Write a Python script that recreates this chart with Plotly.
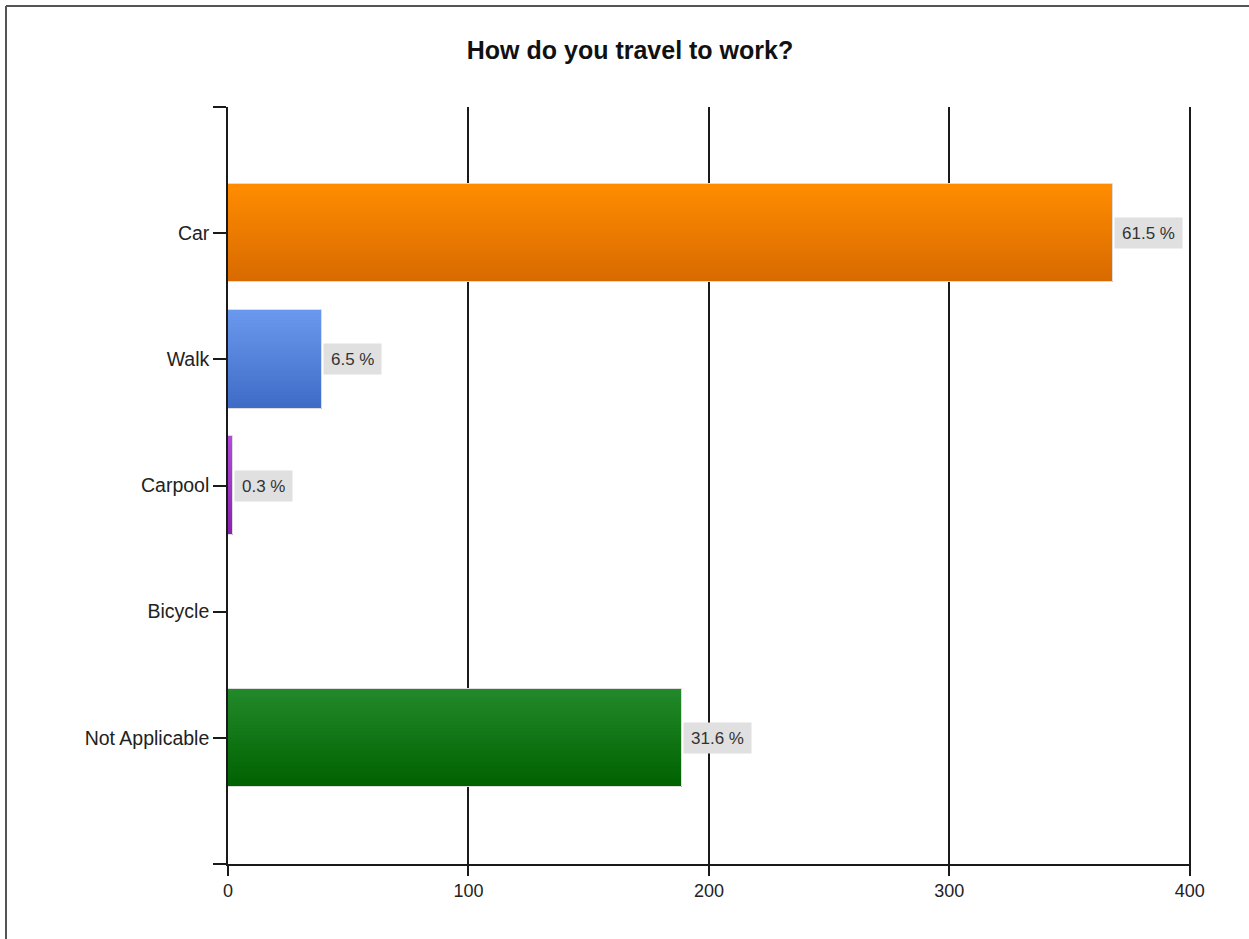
import plotly.graph_objects as go

# Survey responses
categories = ["Car", "Walk", "Carpool", "Bicycle", "Not Applicable"]
counts = [368, 39, 2, 0, 189]
percent_labels = ["61.5 %", "6.5 %", "0.3 %", "", "31.6 %"]
x_ticks = [0, 100, 200, 300, 400]

# Top and bottom colours of each bar's vertical gradient
top_colors = ["#ff8c00", "#6a98ee", "#b04ad8", "#9a9a9a", "#22892a"]
bottom_colors = ["#d86a00", "#3f6cc6", "#8a22b0", "#7a7a7a", "#006200"]

BAR_W = 0.78
STRIPS = 30
FONT = "Liberation Sans, Arial, sans-serif"


def mix(c1, c2, t):
    a = [int(c1[i:i + 2], 16) for i in (1, 3, 5)]
    b = [int(c2[i:i + 2], 16) for i in (1, 3, 5)]
    return "#" + "".join(f"{round(a[k] + (b[k] - a[k]) * t):02x}" for k in range(3))


fig = go.Figure()
positions = list(range(len(categories)))

# Gradient bodies: each bar is built from thin horizontal strips
step = BAR_W / STRIPS
for s in range(STRIPS):
    t = s / (STRIPS - 1)
    fig.add_trace(go.Bar(
        orientation="h",
        x=counts,
        y=positions,
        width=step * (1.6 if s < STRIPS - 1 else 1.0),
        offset=-BAR_W / 2 + s * step,
        marker=dict(color=[mix(top_colors[i], bottom_colors[i], t) for i in range(len(categories))],
                    line=dict(width=0)),
        hoverinfo="skip",
        showlegend=False,
    ))

# Light outline around each bar
fig.add_trace(go.Bar(
    orientation="h",
    x=counts,
    y=positions,
    width=BAR_W,
    marker=dict(color="rgba(0,0,0,0)", line=dict(color="#dcdcdc", width=1)),
    text=categories,
    hovertemplate="%{text}: %{x}<extra></extra>",
    textposition="none",
    showlegend=False,
))

# Percentage labels beside the bars
annotations = []
for i, (v, lab) in enumerate(zip(counts, percent_labels)):
    if not lab:
        continue
    annotations.append(dict(
        x=v, y=i, xref="x", yref="y", text=lab, showarrow=False,
        xanchor="left", yanchor="middle", xshift=1,
        bgcolor="#e0e0e0", borderpad=7, height=16,
        font=dict(family=FONT, size=17, color="#333333"),
    ))

W, H = 1249, 939
L, R, T, B = 228, 58, 107, 75
pw, ph = W - L - R, H - T - B

fig.update_layout(
    width=W, height=H,
    margin=dict(l=L, r=R, t=T, b=B),
    paper_bgcolor="white",
    plot_bgcolor="white",
    barmode="overlay",
    bargap=0,
    title=dict(
        text="<b>How do you travel to work?</b>",
        x=630 / W, xanchor="center", y=1 - 50 / H, yanchor="middle",
        font=dict(family=FONT, size=25, color="#111111"),
    ),
    xaxis=dict(
        range=[0, 400.5],
        tickvals=x_ticks,
        ticktext=[str(v) for v in x_ticks],
        showgrid=True, gridcolor="#1a1a1a", gridwidth=1.6,
        zeroline=False,
        showline=True, linecolor="#1a1a1a", linewidth=1.6,
        ticks="outside", ticklen=10, tickcolor="#1a1a1a", tickwidth=1.6,
        tickfont=dict(family=FONT, size=18, color="#222222"),
        fixedrange=True,
    ),
    yaxis=dict(
        range=[len(categories), -1],
        tickvals=[-1] + positions + [len(categories)],
        ticktext=[""] + categories + [""],
        showgrid=False, zeroline=False,
        showline=True, linecolor="#1a1a1a", linewidth=1.6,
        ticks="outside", ticklen=13, tickcolor="#1a1a1a", tickwidth=1.6,
        tickfont=dict(family=FONT, size=19.5, color="#222222"),
        fixedrange=True,
    ),
    annotations=annotations,
    shapes=[
        # outer frame: left and top edges
        dict(type="line", xref="paper", yref="paper",
             x0=(6 - L) / pw, x1=(6 - L) / pw, y0=1 + (T - 6) / ph, y1=-(B + 5) / ph,
             line=dict(color="#555555", width=2), layer="above"),
        dict(type="line", xref="paper", yref="paper",
             x0=(6 - L) / pw, x1=(W + 5 - L) / pw, y0=1 + (T - 6) / ph, y1=1 + (T - 6) / ph,
             line=dict(color="#555555", width=2), layer="above"),
    ],
)

fig.write_html("out.html", config={"displayModeBar": False})
